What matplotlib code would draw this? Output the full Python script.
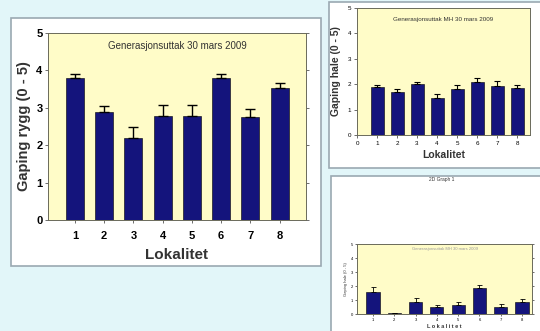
import numpy as np
import matplotlib
matplotlib.use("Agg")
import matplotlib.pyplot as plt
from matplotlib.patches import Rectangle

plt.rcParams['font.family'] = ['Liberation Sans', 'DejaVu Sans']

W, H = 540, 331

lokalitet = [1, 2, 3, 4, 5, 6, 7, 8]

# gaping rygg, generasjonsuttak 30 mars 2009
rygg = [3.80, 2.88, 2.20, 2.78, 2.78, 3.80, 2.75, 3.52]
rygg_err = [0.10, 0.17, 0.30, 0.30, 0.29, 0.10, 0.23, 0.13]

# gaping hale, MH 30 mars 2009
hale = [1.90, 1.70, 2.00, 1.47, 1.80, 2.10, 1.93, 1.87]
hale_err = [0.07, 0.13, 0.08, 0.15, 0.15, 0.15, 0.20, 0.10]

# gaping hale, graph 1
hale2 = [1.60, 0.05, 0.88, 0.48, 0.64, 1.83, 0.52, 0.83]
hale2_err = [0.30, 0.03, 0.29, 0.16, 0.24, 0.27, 0.17, 0.24]

BG = '#e2f6f9'
PANEL_EDGE = '#9aa9b2'
AX_FACE = '#fffcc8'
BAR = '#14147c'


def px_rect(x0, y0, x1, y1):
    return [x0 / W, 1 - y1 / H, (x1 - x0) / W, (y1 - y0) / H]


def panel(fig, x0, y0, x1, y1):
    fig.patches.append(Rectangle((x0 / W, 1 - y1 / H), (x1 - x0) / W, (y1 - y0) / H,
                                 transform=fig.transFigure, facecolor='white',
                                 edgecolor=PANEL_EDGE, linewidth=1.2, zorder=-5))


def bar_axes(fig, rect, vals, errs, xlim, width, tick_fs, cap, lw, right_ticks=True):
    ax = fig.add_axes(px_rect(*rect))
    ax.set_zorder(2)
    ax.set_facecolor(AX_FACE)
    ax.bar(lokalitet, vals, width=width, color=BAR, edgecolor='black',
           linewidth=0.4, zorder=2)
    ax.errorbar(lokalitet, vals, yerr=[np.zeros(len(vals)), errs], fmt='none',
                ecolor='black', elinewidth=lw, capsize=cap, capthick=lw, zorder=3)
    ax.set_xlim(*xlim)
    ax.set_ylim(0, 5)
    ax.set_xticks(lokalitet)
    ax.set_yticks(range(6))
    for s in ax.spines.values():
        s.set_color('#6a6a5a')
        s.set_linewidth(0.7)
    ax.tick_params(axis='both', labelsize=tick_fs, length=2, width=0.6,
                   color='#555555', pad=2)
    ax.tick_params(axis='y', right=right_ticks, direction='out')
    return ax


fig = plt.figure(figsize=(W / 100, H / 100), dpi=100)
fig.patch.set_facecolor(BG)

panel(fig, 11, 18, 321, 266)
panel(fig, 329, 2, 545, 168)
panel(fig, 331, 176, 545, 345)

# main chart
ax1 = bar_axes(fig, (48, 33, 306, 220), rygg, rygg_err, (0.08, 8.9), 0.62, 8, 3.5, 1.0)
for t in ax1.get_xticklabels() + ax1.get_yticklabels():
    t.set_fontweight('bold')
ax1.tick_params(axis='x', pad=6)
ax1.set_ylabel('Gaping rygg (0 - 5)', fontsize=10.5, fontweight='bold',
               color='#333333', labelpad=4)
ax1.set_xlabel('Lokalitet', fontsize=11, fontweight='bold', color='#333333',
               labelpad=5)
ax1.text(0.5, 0.955, 'Generasjonsuttak 30 mars 2009', transform=ax1.transAxes,
         ha='center', va='top', fontsize=7, color='#333333')

# top right chart
ax2 = bar_axes(fig, (357, 8, 530, 135), hale, hale_err, (0, 8.65), 0.65, 4.5, 2.5, 0.8,
               right_ticks=False)
ax2.set_xticks(range(9))
ax2.set_ylabel('Gaping hale (0 - 5)', fontsize=7.5, fontweight='bold',
               color='#333333', labelpad=5)
ax2.set_xlabel('Lokalitet', fontsize=7.5, fontweight='bold', color='#333333',
               labelpad=3)
ax2.text(0.5, 0.93, 'Generasjonsuttak MH 30 mars 2009', transform=ax2.transAxes,
         ha='center', va='top', fontsize=4.5, color='#333333')

# bottom right chart
ax3 = bar_axes(fig, (357, 244, 532, 314), hale2, hale2_err, (0.25, 8.47), 0.62, 3, 1.8, 0.6)
ax3.tick_params(length=1.5, pad=1.5)
ax3.set_ylabel('Gaping hale (0 - 5)', fontsize=3, color='#333333', labelpad=2)
ax3.set_xlabel('L o k a l i t e t', fontsize=4, fontweight='bold', color='#333333',
               labelpad=1)
ax3.text(0.5, 0.96, 'Generasjonsuttak MH 30 mars 2009', transform=ax3.transAxes,
         ha='center', va='top', fontsize=3, color='#999999')
fig.text(442 / W, 1 - 180 / H, '2D Graph 1', ha='center', va='center',
         fontsize=3.5, color='#333333')

fig.savefig('out.png', dpi=100, facecolor=BG)
